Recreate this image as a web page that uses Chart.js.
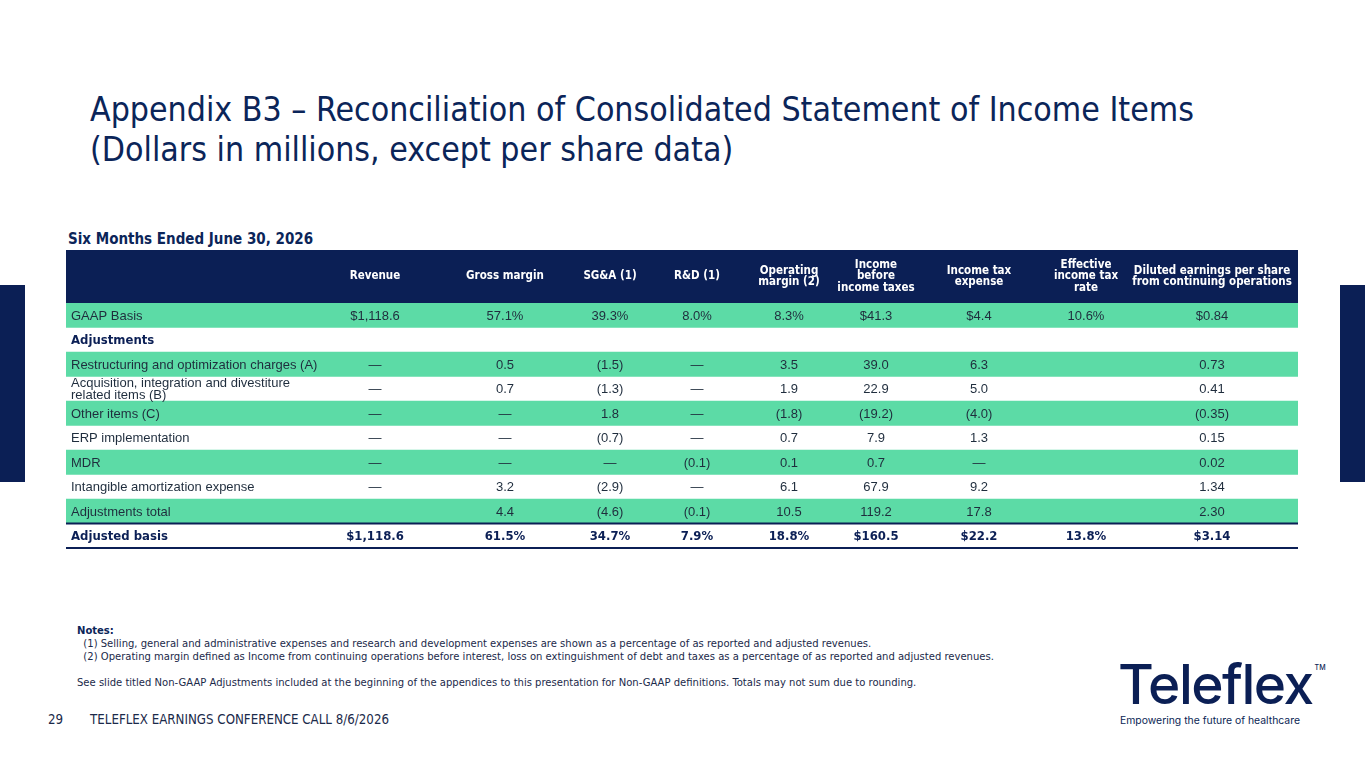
<!DOCTYPE html>
<html>
<head>
<meta charset="utf-8">
<script src="https://cdn.jsdelivr.net/npm/chart.js@4.4.1/dist/chart.umd.min.js"></script>
<style>
  html, body { margin: 0; padding: 0; background: #fff; }
  body { width: 1365px; height: 768px; position: relative; overflow: hidden;
         font-family: "DejaVu Sans Condensed", "DejaVu Sans", sans-serif; color: #0b2559; }
  .abs { position: absolute; white-space: nowrap; }
  #title { left: 90px; top: 90px; font-size: 33.6px; line-height: 40px; color: #0b2559; }
  #period { left: 68px; top: 230px; font-size: 15px; font-weight: bold; }
  #notes { left: 77px; top: 624px; font-size: 11.15px; line-height: 13px; color: #1b2a4a; }
  #notes b { color: #0b2559; }
  #foot { left: 48px; top: 712px; font-size: 13.2px; color: #1b2a4a; }
  #foot span { margin-left: 27px; }
  .side { position: absolute; top: 285px; width: 25px; height: 197px; background: #0b1f55; }
  #logo { left: 1118px; top: 638px; font-family: Inter, "Noto Sans", sans-serif; color: #0b1f55; }
  #logo .word { font-size: 55px; font-weight: 500; letter-spacing: -1.5px; line-height: 60px; }
  #logo .tm { font-size: 7px; vertical-align: 34px; margin-left: 2px; letter-spacing: 0; }
  #logo .tag { font-size: 10.4px; line-height: 14px; margin-left: 2px; }
  #wrap { position: absolute; left: 66px; top: 250px; width: 1232px; height: 300px; }
</style>
</head>
<body>
<div class="side" style="left:0"></div>
<div class="side" style="left:1340px"></div>
<div id="title" class="abs">Appendix B3 – Reconciliation of Consolidated Statement of Income Items<br>(Dollars in millions, except per share data)</div>
<div id="period" class="abs">Six Months Ended June 30, 2026</div>
<div id="wrap"><canvas id="GraficoTabela"></canvas></div>
<div id="notes" class="abs"><b>Notes:</b><br>
&nbsp;&nbsp;(1) Selling, general and administrative expenses and research and development expenses are shown as a percentage of as reported and adjusted revenues.<br>
&nbsp;&nbsp;(2) Operating margin defined as Income from continuing operations before interest, loss on extinguishment of debt and taxes as a percentage of as reported and adjusted revenues.<br><br>
See slide titled Non-GAAP Adjustments included at the beginning of the appendices to this presentation for Non-GAAP definitions. Totals may not sum due to rounding.</div>
<div id="foot" class="abs">29<span>TELEFLEX EARNINGS CONFERENCE CALL 8/6/2026</span></div>
<div id="logo" class="abs"><div class="word">Teleflex<span class="tm">TM</span></div><div class="tag">Empowering the future of healthcare</div></div>

<script>
// linhas da tabela
const rowLabels = [
  ['GAAP Basis'],
  ['Adjustments'],
  ['Restructuring and optimization charges (A)'],
  ['Acquisition, integration and divestiture', 'related items (B)'],
  ['Other items (C)'],
  ['ERP implementation'],
  ['MDR'],
  ['Intangible amortization expense'],
  ['Adjustments total'],
  ['Adjusted basis']
];
const boldRows = [false, true, false, false, false, false, false, false, false, true];
const greenRows = [true, false, true, false, true, false, true, false, true, false];

// cabeçalho das colunas
const columnHeaders = [
  ['Revenue'],
  ['Gross margin'],
  ['SG&A (1)'],
  ['R&D (1)'],
  ['Operating', 'margin (2)'],
  ['Income', 'before', 'income taxes'],
  ['Income tax', 'expense'],
  ['Effective', 'income tax', 'rate'],
  ['Diluted earnings per share', 'from continuing operations']
];

// valores por coluna
const revenue = ['$1,118.6', '', '—', '—', '—', '—', '—', '—', '', '$1,118.6'];
const grossMargin = ['57.1%', '', '0.5', '0.7', '—', '—', '—', '3.2', '4.4', '61.5%'];
const sgaPct = ['39.3%', '', '(1.5)', '(1.3)', '1.8', '(0.7)', '—', '(2.9)', '(4.6)', '34.7%'];
const rdPct = ['8.0%', '', '—', '—', '—', '—', '(0.1)', '—', '(0.1)', '7.9%'];
const operatingMargin = ['8.3%', '', '3.5', '1.9', '(1.8)', '0.7', '0.1', '6.1', '10.5', '18.8%'];
const incomeBeforeTax = ['$41.3', '', '39.0', '22.9', '(19.2)', '7.9', '0.7', '67.9', '119.2', '$160.5'];
const incomeTaxExpense = ['$4.4', '', '6.3', '5.0', '(4.0)', '1.3', '—', '9.2', '17.8', '$22.2'];
const effectiveTaxRate = ['10.6%', '', '', '', '', '', '', '', '', '13.8%'];
const dilutedEps = ['$0.84', '', '0.73', '0.41', '(0.35)', '0.15', '0.02', '1.34', '2.30', '$3.14'];

const columns = [revenue, grossMargin, sgaPct, rdPct, operatingMargin,
  incomeBeforeTax, incomeTaxExpense, effectiveTaxRate, dilutedEps];

// layout (px dentro da tabela)
const tableWidth = 1232;
const labelX = 5;
const columnCenters = [309, 439, 544, 631, 723, 810, 913, 1020, 1146];
const headerHeight = 53;

const navy = '#0b1f55';
const green = '#5cdba6';
const textColor = '#1f2d3d';

const tabelaPlugin = {
  id: 'tabela',
  beforeDatasetsDraw(chart) {
    const { ctx, chartArea } = chart;
    ctx.save();
    ctx.fillStyle = navy;
    ctx.fillRect(chartArea.left, chartArea.top - headerHeight, chartArea.right - chartArea.left, headerHeight);
    ctx.restore();
  },
  afterDatasetsDraw(chart) {
    const { ctx, chartArea, scales } = chart;
    const x = scales.x, y = scales.y;
    const band = (y.getPixelForValue(1) - y.getPixelForValue(0));
    ctx.save();

    // cabeçalho
    ctx.fillStyle = '#ffffff';
    ctx.font = 'bold 11.5px "DejaVu Sans Condensed", "DejaVu Sans", sans-serif';
    ctx.textAlign = 'center';
    ctx.textBaseline = 'middle';
    const headMid = chartArea.top - headerHeight / 2;
    columnHeaders.forEach((lines, c) => {
      const lh = 11.5;
      lines.forEach((t, k) => {
        ctx.fillText(t, x.getPixelForValue(columnCenters[c]), headMid + (k - (lines.length - 1) / 2) * lh);
      });
    });

    // linhas
    rowLabels.forEach((lines, r) => {
      const cy = y.getPixelForValue(r);
      const bold = boldRows[r];
      ctx.fillStyle = bold ? navy : textColor;
      ctx.font = bold ? 'bold 13px "DejaVu Sans Condensed", "DejaVu Sans", sans-serif'
                      : '13px "Liberation Sans", Arial, sans-serif';
      ctx.textAlign = 'left';
      lines.forEach((t, k) => {
        ctx.fillText(t, x.getPixelForValue(labelX), cy + 1 + (k - (lines.length - 1) / 2) * 12);
      });
      ctx.textAlign = 'center';
      columns.forEach((col, c) => {
        if (col[r]) ctx.fillText(col[r], x.getPixelForValue(columnCenters[c]), cy + 1);
      });
    });

    // linhas separadoras
    ctx.strokeStyle = navy;
    ctx.lineWidth = 2;
    [8, 9].forEach(r => {
      const ly = y.getPixelForValue(r) + band / 2;
      ctx.beginPath();
      ctx.moveTo(chartArea.left, ly);
      ctx.lineTo(chartArea.right, ly);
      ctx.stroke();
    });
    ctx.restore();
  }
};

const GraficoTabela = document.getElementById('GraficoTabela');

new Chart(GraficoTabela, {
  type: 'bar',
  data: {
    labels: rowLabels.map(l => l.join(' ')),
    datasets: [
      {
        label: 'faixas',
        data: greenRows.map(g => g ? [0, tableWidth] : null),
        backgroundColor: green,
        borderWidth: 0,
        categoryPercentage: 1,
        barPercentage: 1
      }
    ]
  },
  options: {
    indexAxis: 'y',
    responsive: true,
    maintainAspectRatio: false,
    animation: false,
    layout: { padding: { top: headerHeight, bottom: 2, left: 0, right: 0 } },
    scales: {
      x: { type: 'linear', min: 0, max: tableWidth, display: false },
      y: { display: false, offset: true }
    },
    plugins: {
      legend: { display: false },
      tooltip: { enabled: false },
      title: { display: false }
    }
  },
  plugins: [tabelaPlugin]
});
</script>
</body>
</html>
